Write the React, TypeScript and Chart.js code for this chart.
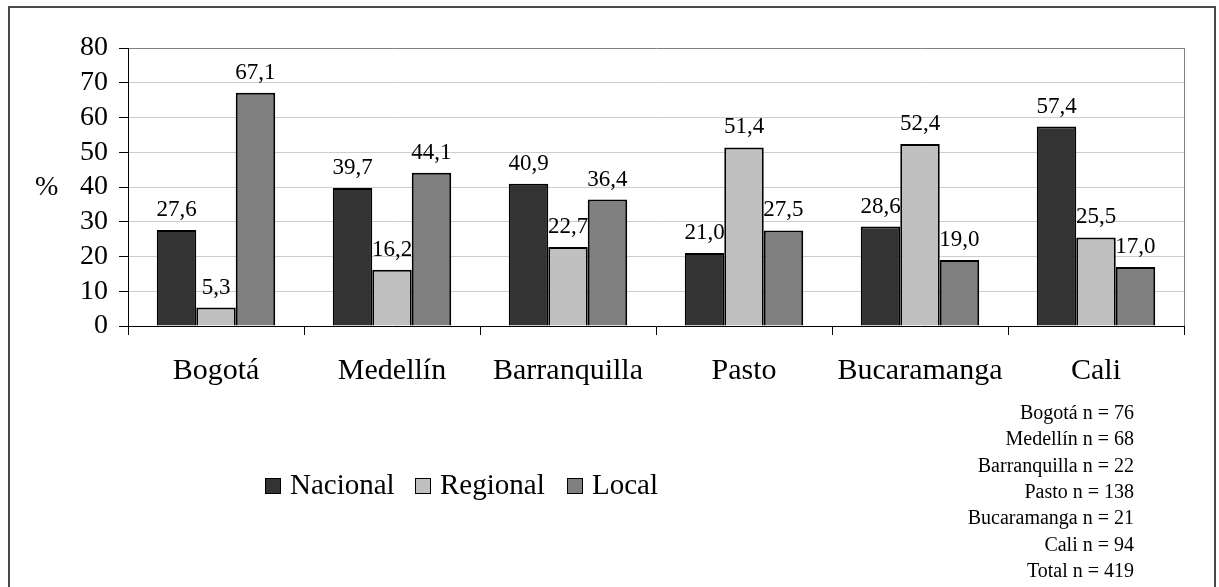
import React, { useEffect, useRef } from 'react';
import { Chart, registerables } from 'chart.js';

Chart.register(...registerables);

const categories = ['Bogotá', 'Medellín', 'Barranquilla', 'Pasto', 'Bucaramanga', 'Cali'];
const seriesNames = ['Nacional', 'Regional', 'Local'];
const nacional = [27.6, 39.7, 40.9, 21.0, 28.6, 57.4];
const regional = [5.3, 16.2, 22.7, 51.4, 52.4, 25.5];
const local = [67.1, 44.1, 36.4, 27.5, 19.0, 17.0];
const seriesColors = ['#333333', '#c0c0c0', '#808080'];
const sampleLabels = [
  'Bogotá n = 76',
  'Medellín n = 68',
  'Barranquilla n = 22',
  'Pasto n = 138',
  'Bucaramanga n = 21',
  'Cali n = 94',
  'Total n = 419',
];
const yMin = 0;
const yMax = 80;
const yStep = 10;
const yAxisTitle = '%';

const FONT = '"Liberation Serif", "Times New Roman", serif';

const fmt = (v: number) => v.toFixed(1).replace('.', ',');

const framePlugin = {
  id: 'frame',
  beforeDraw(chart: any) {
    const { ctx } = chart;
    ctx.save();
    ctx.fillStyle = '#ffffff';
    ctx.fillRect(0, 0, chart.width, chart.height);
    ctx.strokeStyle = '#4a4a4a';
    ctx.lineWidth = 2;
    ctx.strokeRect(9, 7, 1206, 620);
    ctx.restore();
  },
  beforeDatasetsDraw(chart: any) {
    const { ctx, chartArea } = chart;
    ctx.save();
    ctx.strokeStyle = '#808080';
    ctx.lineWidth = 1;
    ctx.beginPath();
    ctx.moveTo(Math.round(chartArea.right) + 0.5, chartArea.top);
    ctx.lineTo(Math.round(chartArea.right) + 0.5, chartArea.bottom);
    ctx.stroke();
    ctx.restore();
  },
};

const labelsPlugin = {
  id: 'valueLabels',
  afterDatasetsDraw(chart: any) {
    const { ctx } = chart;
    ctx.save();
    ctx.font = `23px ${FONT}`;
    ctx.fillStyle = '#000';
    ctx.textAlign = 'center';
    ctx.textBaseline = 'alphabetic';
    chart.data.datasets.forEach((ds: any, i: number) => {
      const meta = chart.getDatasetMeta(i);
      meta.data.forEach((bar: any, j: number) => {
        ctx.fillText(fmt(ds.data[j]), bar.x, bar.y - 14);
      });
    });
    ctx.restore();
  },
};

const extrasPlugin = {
  id: 'extras',
  afterDraw(chart: any) {
    const { ctx } = chart;
    const yScale = chart.scales.y;
    ctx.save();
    // y axis title
    ctx.font = `28px ${FONT}`;
    ctx.fillStyle = '#000';
    ctx.textAlign = 'left';
    ctx.textBaseline = 'middle';
    ctx.fillText(yAxisTitle, 35, yScale.getPixelForValue(40) + 1);

    // legend
    const legendX = [265, 415, 567];
    ctx.font = `29px ${FONT}`;
    ctx.textBaseline = 'alphabetic';
    seriesNames.forEach((name, i) => {
      const x = legendX[i];
      ctx.fillStyle = seriesColors[i];
      ctx.fillRect(x, 478, 16, 16);
      ctx.strokeStyle = '#000';
      ctx.lineWidth = 1;
      ctx.strokeRect(x + 0.5, 478.5, 15, 15);
      ctx.fillStyle = '#000';
      ctx.fillText(name, x + 25, 494);
    });

    // sample sizes
    ctx.font = `20px ${FONT}`;
    ctx.textAlign = 'right';
    sampleLabels.forEach((t, i) => {
      ctx.fillText(t, 1134, 419 + i * 26.3);
    });
    ctx.restore();
  },
};

export default function App() {
  const ref = useRef<HTMLCanvasElement>(null);

  useEffect(() => {
    if (!ref.current) return;
    const chart = new Chart(ref.current, {
      type: 'bar',
      data: {
        labels: categories,
        datasets: [nacional, regional, local].map((d, i) => ({
          label: seriesNames[i],
          data: d,
          backgroundColor: seriesColors[i],
          borderColor: '#000000',
          borderWidth: 2,
          categoryPercentage: 0.673,
          barPercentage: 1.0,
        })),
      },
      options: {
        responsive: false,
        animation: false,
        devicePixelRatio: 1,
        layout: { padding: { top: 48, right: 35, bottom: 0, left: 0 } },
        plugins: {
          legend: { display: false },
          tooltip: { enabled: false },
          title: { display: false },
        },
        scales: {
          x: {
            grid: {
              offset: true,
              drawOnChartArea: false,
              drawTicks: true,
              tickLength: 9,
              color: '#000',
            },
            border: { display: true, color: '#000', width: 1 },
            ticks: {
              font: { family: FONT, size: 30 },
              color: '#000',
              padding: 18,
              maxRotation: 0,
              autoSkip: false,
            },
            afterFit: (scale: any) => {
              scale.height = 261;
            },
          },
          y: {
            min: yMin,
            max: yMax,
            ticks: {
              stepSize: yStep,
              autoSkip: false,
              font: { family: FONT, size: 28 },
              color: '#000',
              padding: 11,
            },
            grid: {
              color: (c: any) => (c.tick && c.tick.value === yMax ? '#808080' : '#cccccc'),
              tickColor: '#000',
              tickLength: 9,
              drawTicks: true,
            },
            border: { display: true, color: '#000', width: 1 },
            afterFit: (scale: any) => {
              scale.width = 128;
            },
          },
        },
      },
      plugins: [framePlugin, labelsPlugin, extrasPlugin],
    });
    return () => chart.destroy();
  }, []);

  return (
    <div style={{ position: 'fixed', left: 0, top: 0, width: 1219, height: 587, background: '#fff' }}>
      <canvas ref={ref} width={1219} height={587} style={{ display: 'block' }} />
    </div>
  );
}
